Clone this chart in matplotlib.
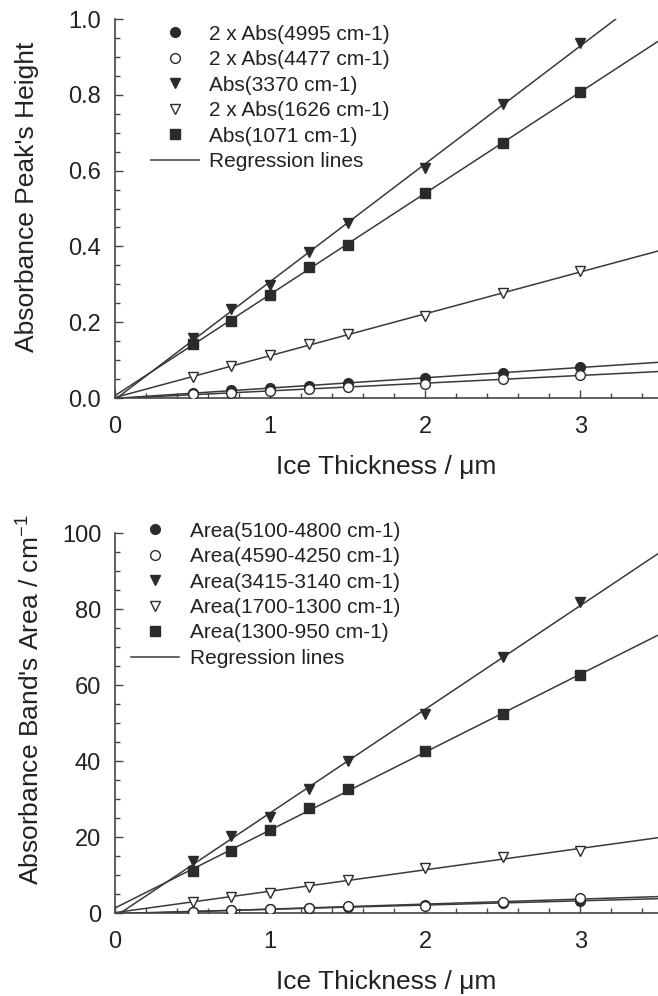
import numpy as np
import matplotlib
matplotlib.use('Agg')
import matplotlib.pyplot as plt
from matplotlib.ticker import MultipleLocator, FormatStrFormatter

plt.rcParams['font.family'] = ['Liberation Sans', 'DejaVu Sans']
plt.rcParams['mathtext.fontset'] = 'custom'
plt.rcParams['mathtext.rm'] = 'Liberation Sans'
plt.rcParams['mathtext.default'] = 'regular'

# Ice thickness (um)
thickness = [0.5, 0.75, 1.0, 1.25, 1.5, 2.0, 2.5, 3.0]

# Top panel: absorbance peak heights
peak_labels = ['2 x Abs(4995 cm-1)', '2 x Abs(4477 cm-1)', 'Abs(3370 cm-1)',
               '2 x Abs(1626 cm-1)', 'Abs(1071 cm-1)']
abs_4995 = [0.012, 0.021, 0.027, 0.032, 0.039, 0.054, 0.065, 0.082]
abs_4477 = [0.010, 0.014, 0.019, 0.024, 0.028, 0.036, 0.049, 0.062]
abs_3370 = [0.159, 0.234, 0.298, 0.386, 0.461, 0.606, 0.776, 0.936]
abs_1626 = [0.056, 0.084, 0.113, 0.142, 0.168, 0.216, 0.276, 0.336]
abs_1071 = [0.142, 0.204, 0.271, 0.346, 0.404, 0.540, 0.674, 0.808]

# Bottom panel: band areas (cm-1)
area_labels = ['Area(5100-4800 cm-1)', 'Area(4590-4250 cm-1)', 'Area(3415-3140 cm-1)',
               'Area(1700-1300 cm-1)', 'Area(1300-950 cm-1)']
area_5100 = [0.4, 0.7, 1.0, 1.2, 1.6, 2.2, 2.6, 3.2]
area_4590 = [0.4, 0.8, 1.1, 1.3, 1.8, 1.9, 3.0, 3.9]
area_3415 = [13.7, 20.3, 25.3, 32.6, 40.0, 52.5, 67.3, 81.9]
area_1700 = [3.0, 4.3, 5.4, 6.9, 8.7, 11.9, 14.8, 16.3]
area_1300 = [11.05, 16.4, 21.8, 27.7, 32.6, 42.6, 52.3, 62.6]

ink = '#2b2b2b'
# marker style per series: (marker, face, size)
styles = [('o', ink, 7.0), ('o', 'white', 7.0), ('v', ink, 7.5),
          ('v', 'white', 7.5), ('s', ink, 6.5)]

fig = plt.figure(figsize=(6.58, 9.96), dpi=100)
ax1 = fig.add_axes([0.1748, 0.6004, 0.8252, 0.3805])
ax2 = fig.add_axes([0.1748, 0.0833, 0.8252, 0.3815])


def draw(ax, series, labels, ymax, ymajor, yminor, yfmt, ylabel):
    x = np.array(thickness)
    for y, lab, (m, fc, ms) in zip(series, labels, styles):
        ax.plot(x, y, ls='none', marker=m, mfc=fc, mec=ink, mew=1.0, ms=ms,
                label=lab, zorder=3)
    xx = np.array([0.0, 3.5])
    for i, y in enumerate(series):
        k, b = np.polyfit(x, y, 1)
        ax.plot(xx, k * xx + b, color='#3a3a3a', lw=1.1, zorder=2,
                label='Regression lines' if i == 0 else None)
    ax.set_xlim(0, 3.5)
    ax.set_ylim(0, ymax)
    ax.xaxis.set_major_locator(MultipleLocator(1))
    ax.xaxis.set_minor_locator(MultipleLocator(0.2))
    ax.yaxis.set_major_locator(MultipleLocator(ymajor))
    ax.yaxis.set_minor_locator(MultipleLocator(yminor))
    ax.yaxis.set_major_formatter(FormatStrFormatter(yfmt))
    for s in ['top', 'right']:
        ax.spines[s].set_visible(False)
    for s in ['left', 'bottom']:
        ax.spines[s].set_color('#444444')
        ax.spines[s].set_linewidth(1.2)
    ax.tick_params(which='both', direction='in', colors='#444444', width=1.0,
                   labelcolor='#222222', labelsize=17)
    ax.tick_params(which='major', length=5.5)
    ax.tick_params(which='minor', length=3.6)
    ax.tick_params(axis='y', pad=10)
    ax.tick_params(axis='x', pad=13)
    ax.set_xlabel('Ice Thickness / \u03bcm', fontsize=19, color='#222222')
    ax.set_ylabel(ylabel, fontsize=19, color='#222222')


draw(ax1, [abs_4995, abs_4477, abs_3370, abs_1626, abs_1071], peak_labels,
     1.0, 0.2, 0.05, '%.1f', "Absorbance Peak's Height")
draw(ax2, [area_5100, area_4590, area_3415, area_1700, area_1300], area_labels,
     100, 20, 5, '%d', "Absorbance Band's Area / cm$^{-1}$")

leg_kw = dict(loc='upper left', frameon=False, fontsize=15, handlelength=2.3,
              handletextpad=0.5, labelspacing=0.31, borderpad=0,
              borderaxespad=0, labelcolor='#222222')
ax1.legend(bbox_to_anchor=(0.066, 0.985), **leg_kw)
ax2.legend(bbox_to_anchor=(0.03, 1.03), **leg_kw)

ax1.yaxis.set_label_coords(-0.14, 0.53)
ax2.yaxis.set_label_coords(-0.13, 0.56)
ax1.xaxis.set_label_coords(0.5, -0.15)
ax2.xaxis.set_label_coords(0.5, -0.15)

fig.savefig('out.png', dpi=100)
